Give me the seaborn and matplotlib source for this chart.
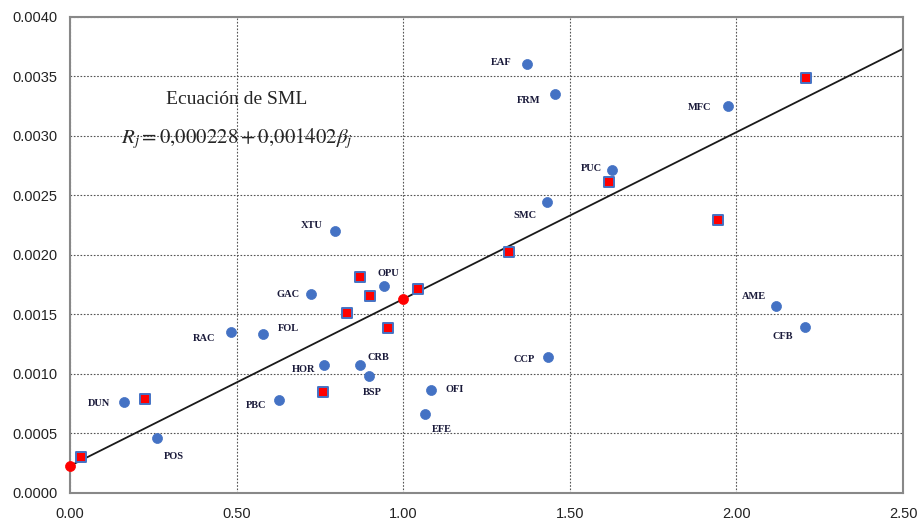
import numpy as np
import pandas as pd
import matplotlib.pyplot as plt
import seaborn as sns

# empresas (beta, rendimiento)
names = ['EAF', 'FRM', 'MFC', 'PUC', 'SMC', 'XTU', 'OPU', 'GAC', 'FOL', 'RAC', 'HOR',
         'CRB', 'BSP', 'OFI', 'EFE', 'PBC', 'DUN', 'POS', 'CCP', 'AME', 'CFB']
beta = [1.372, 1.456, 1.976, 1.628, 1.432, 0.796, 0.943, 0.724, 0.580, 0.483, 0.763,
        0.871, 0.898, 1.084, 1.066, 0.628, 0.162, 0.261, 1.435, 2.120, 2.207]
ret = [0.003605, 0.003353, 0.003252, 0.002714, 0.002445, 0.002202, 0.001739, 0.001672,
       0.001336, 0.001353, 0.001076, 0.001076, 0.000983, 0.000866, 0.000664, 0.000781,
       0.000765, 0.000462, 0.001143, 0.001571, 0.001395]

# carteras (cuadrados rojos)
port_beta = [2.210, 1.619, 1.946, 1.318, 0.871, 0.901, 1.045, 0.832, 0.955, 0.760, 0.225, 0.033]
port_ret = [0.003487, 0.002613, 0.002294, 0.002025, 0.001815, 0.001655, 0.001714,
            0.001513, 0.001387, 0.000849, 0.000790, 0.000303]

# activo libre de riesgo y mercado
ref_beta = [0.0, 1.0]
ref_ret = [0.000228, 0.001630]

intercept = 0.000228
slope = 0.001402

# label offsets in points (dx, dy)
offsets = {
    'EAF': (-19, 1), 'FRM': (-19, -5), 'MFC': (-21, -1), 'PUC': (-15, 1),
    'SMC': (-16, -10), 'XTU': (-17, 4), 'OPU': (3, 9), 'GAC': (-17, 0),
    'FOL': (18, 4), 'RAC': (-19, -5), 'HOR': (-15, -3), 'CRB': (13, 5),
    'BSP': (2, -12), 'OFI': (17, 0), 'EFE': (12, -11), 'PBC': (-17, -4),
    'DUN': (-18, -1), 'POS': (12, -13), 'CCP': (-17, -2), 'AME': (-16, 7),
    'CFB': (-16, -7),
}

df = pd.DataFrame({'name': names, 'beta': beta, 'ret': ret})
dp = pd.DataFrame({'beta': port_beta, 'ret': port_ret})
dr = pd.DataFrame({'beta': ref_beta, 'ret': ref_ret})

sns.set_theme(style="white")
plt.rcParams['font.family'] = ['Liberation Serif', 'DejaVu Serif']
plt.rcParams['mathtext.fontset'] = 'stix'

fig = plt.figure(figsize=(9.19, 5.23), dpi=100)
ax = fig.add_axes([0.0762, 0.0574, 0.9064, 0.9101])

xs = np.array([0, 2.5])
ax.plot(xs, intercept + slope * xs, color='#1a1a1a', lw=1.3, zorder=2)

sns.scatterplot(data=df, x='beta', y='ret', ax=ax, color='#4472C4', s=52,
                edgecolor='#4472C4', linewidth=0.5, zorder=3)
sns.scatterplot(data=dp, x='beta', y='ret', ax=ax, color='#FF0000', marker='s', s=44,
                edgecolor='#4472C4', linewidth=1.4, zorder=3)
sns.scatterplot(data=dr, x='beta', y='ret', ax=ax, color='#FF0000', s=52,
                edgecolor='#FF0000', linewidth=0.5, zorder=4, clip_on=False)

for n, b, r in zip(names, beta, ret):
    dx, dy = offsets[n]
    ax.annotate(n, (b, r), xytext=(dx, dy), textcoords='offset points',
                ha='center', va='center', fontsize=7.5, fontweight='bold', color='#1a1a3a')

ax.text(0.5, 0.00331, 'Ecuación de SML', ha='center', va='center', fontsize=14)
ax.text(0.5, 0.00298, r'$R_j = 0{,}000228 + 0{,}001402\beta_j$', ha='center', va='center',
        fontsize=15)

ax.set_xlim(0, 2.5)
ax.set_ylim(0, 0.004)
ax.set_xticks(np.arange(0, 2.51, 0.5))
ax.set_yticks(np.arange(0, 0.00401, 0.0005))
ax.set_xticklabels([f'{v:.2f}' for v in np.arange(0, 2.51, 0.5)])
ax.set_yticklabels([f'{v:.4f}' for v in np.arange(0, 0.00401, 0.0005)])
ax.tick_params(axis='y', labelsize=10.5, colors='#222222', length=0, pad=9)
ax.tick_params(axis='x', labelsize=10.5, colors='#222222', length=0, pad=10)
for lab in ax.get_xticklabels() + ax.get_yticklabels():
    lab.set_fontfamily(['Liberation Sans', 'DejaVu Sans'])
ax.grid(True, linestyle=(0, (1.5, 1.5)), color='#555555', lw=0.8)
ax.set_axisbelow(True)
for s in ax.spines.values():
    s.set_color('#888888')
    s.set_linewidth(1.5)
ax.set_xlabel('')
ax.set_ylabel('')

plt.savefig('out.png', dpi=100)
